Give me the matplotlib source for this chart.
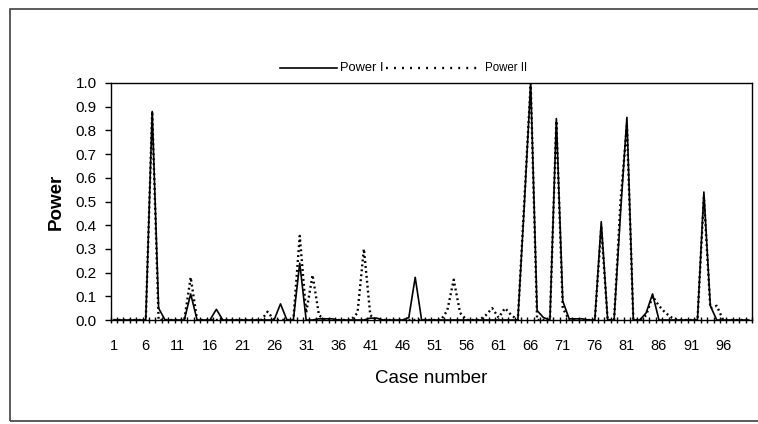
import matplotlib
matplotlib.use("Agg")
import matplotlib.pyplot as plt
from matplotlib import font_manager
from matplotlib.lines import Line2D
from matplotlib.patches import Rectangle

plt.rcParams["font.family"] = ["Liberation Sans", "DejaVu Sans"]

# case numbers 1..100
cases = list(range(1, 101))

# Power I (solid)
power_1 = [
    0, 0, 0, 0, 0, 0, 0.88, 0.05, 0, 0,             # 1-10
    0, 0, 0.11, 0, 0, 0, 0.045, 0, 0, 0,            # 11-20
    0, 0, 0, 0, 0, 0, 0.068, 0, 0, 0.24,            # 21-30
    0, 0, 0.005, 0.005, 0.005, 0, 0, 0, 0, 0,       # 31-40
    0.008, 0.008, 0, 0, 0, 0, 0.01, 0.18, 0, 0,     # 41-50
    0, 0, 0, 0, 0, 0, 0, 0, 0, 0,                   # 51-60
    0, 0, 0, 0, 0.48, 1.0, 0.04, 0.01, 0, 0.85,     # 61-70
    0.08, 0.005, 0.005, 0.005, 0, 0, 0.415, 0, 0, 0.45,  # 71-80
    0.855, 0, 0, 0.03, 0.11, 0, 0, 0, 0, 0,         # 81-90
    0, 0, 0.54, 0.06, 0, 0, 0, 0, 0, 0,             # 91-100
]

# Power II (dotted)
power_2 = [
    0, 0, 0, 0, 0, 0, 0.88, 0, 0, 0,                # 1-10
    0, 0, 0.18, 0, 0, 0, 0, 0, 0, 0,                # 11-20
    0, 0, 0, 0, 0.035, 0, 0, 0, 0, 0.355,           # 21-30
    0.03, 0.19, 0.02, 0, 0, 0, 0, 0, 0.03, 0.30,    # 31-40
    0.02, 0, 0, 0, 0, 0, 0, 0, 0, 0,                # 41-50
    0, 0, 0.04, 0.17, 0.03, 0, 0, 0, 0.02, 0.05,    # 51-60
    0.01, 0.05, 0.02, 0, 0.50, 1.0, 0, 0, 0, 0.84,  # 61-70
    0.05, 0, 0, 0, 0, 0, 0.39, 0, 0, 0.50,          # 71-80
    0.82, 0, 0, 0.02, 0.10, 0.06, 0.03, 0.01, 0, 0, # 81-90
    0, 0, 0.52, 0.05, 0.06, 0, 0, 0, 0, 0,          # 91-100
]

x_labels = list(range(1, 101, 5))
y_ticks = [i / 10 for i in range(11)]

# narrow face for the legend if the system has it
installed = {f.name for f in font_manager.fontManager.ttflist}
if "Liberation Sans Narrow" in installed:
    leg_font, leg_size_1, leg_size_2 = "Liberation Sans Narrow", 11, 9.5
else:
    leg_font, leg_size_1, leg_size_2 = "Liberation Sans", 9.3, 8.3

W, H = 758, 424
fig = plt.figure(figsize=(W / 100, H / 100), dpi=100)
ax = fig.add_axes([110.5 / W, 1 - 320 / H, (752 - 110.5) / W, (320 - 83) / H])

ax.plot(cases, power_1, color="black", lw=1.2, zorder=2)
ax.plot(cases, power_2, color="black", lw=1.7, linestyle=(0, (0.8, 1.3)), zorder=3)

ax.set_xlim(0.5, 100.5)
ax.set_ylim(0, 1.0)
ax.set_xticks(x_labels)
ax.set_xticklabels([str(v) for v in x_labels], fontsize=10.5)
ax.set_xticks([c + 0.5 for c in range(0, 101)], minor=True)
ax.set_yticks(y_ticks)
ax.set_yticklabels([f"{v:.1f}" for v in y_ticks], fontsize=11)
ax.tick_params(axis="x", which="major", length=0, pad=14)
ax.tick_params(axis="x", which="minor", length=4, width=1, direction="inout")
ax.tick_params(axis="y", length=4, width=1, pad=6)

for s in ax.spines.values():
    s.set_linewidth(1.0)
    s.set_color("black")

ax.set_xlabel("Case number", fontsize=13.5, labelpad=12)
ax.set_ylabel("Power", fontsize=13.5, fontweight="bold", labelpad=8)

# legend laid out like the original (different handle lengths)
ly = 1 - 68 / H
fig.add_artist(Line2D([280 / W, 337 / W], [ly, ly],
                      transform=fig.transFigure, color="black", lw=1.2))
fig.text(340 / W, ly, "Power I", fontsize=leg_size_1, family=leg_font,
         va="center", ha="left")
fig.add_artist(Line2D([386 / W, 481 / W], [ly, ly],
                      transform=fig.transFigure, color="black", lw=1.7,
                      linestyle=(0, (0.8, 2.6))))
fig.text(485 / W, ly, "Power II", fontsize=leg_size_2, family=leg_font,
         va="center", ha="left")

# chart area border
fig.add_artist(Rectangle((10 / W, 3 / H), 1.0, (421 - 9) / H,
                         transform=fig.transFigure, fill=False,
                         edgecolor="#404040", lw=1.2))

fig.savefig("out.png", dpi=100)
